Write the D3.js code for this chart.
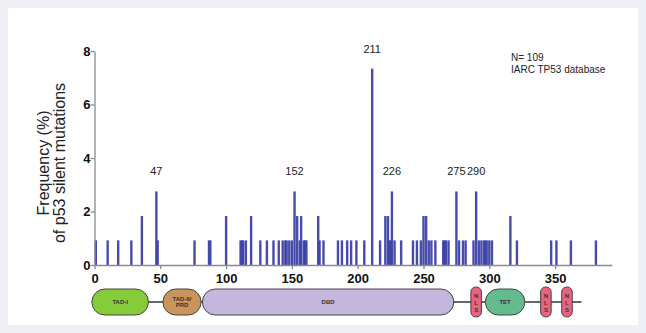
<!DOCTYPE html>
<html>
<head>
<meta charset="utf-8">
<script src="https://cdn.jsdelivr.net/npm/d3@7"></script>
<style>
  html, body { margin: 0; padding: 0; background: #eef0f5; }
  body { width: 646px; height: 333px; overflow: hidden; font-family: "Liberation Sans", Arial, sans-serif; }
</style>
</head>
<body>
<svg id="chart" width="646" height="333"></svg>
<script>
// codon positions and frequency (%) of silent mutations
const codons = [1, 10, 18, 28, 36, 47, 48, 76, 87, 88, 100, 111, 112, 113, 115, 119,
  126, 131, 136, 140, 143, 145, 146, 148, 150, 152, 154, 156, 157, 159, 160, 161,
  170, 171, 174, 185, 188, 192, 195, 199, 205, 211, 217, 221, 223, 224, 225, 226, 228,
  233, 242, 245, 248, 250, 252, 254, 256, 259, 265, 266, 267, 269, 275, 277, 280, 282,
  288, 290, 292, 294, 296, 297, 298, 300, 302, 316, 321, 347, 351, 362, 381];
const freq = [0.92, 0.92, 0.92, 0.92, 1.83, 2.75, 0.92, 0.92, 0.92, 0.92, 1.83, 0.92, 0.92, 0.92, 0.92, 1.83,
  0.92, 0.92, 0.92, 0.92, 0.92, 0.92, 0.92, 0.92, 0.92, 2.75, 1.83, 0.92, 1.83, 0.92, 0.92, 0.92,
  1.83, 0.92, 0.92, 0.92, 0.92, 0.92, 0.92, 0.92, 0.92, 7.34, 0.92, 1.83, 1.83, 0.92, 0.92, 2.75, 0.92,
  0.92, 0.92, 0.92, 0.92, 1.83, 1.83, 0.92, 0.92, 0.92, 0.92, 0.92, 0.92, 0.92, 2.75, 0.92, 0.92, 0.92,
  0.92, 2.75, 0.92, 0.92, 0.92, 0.92, 0.92, 0.92, 0.92, 1.83, 0.92, 0.92, 0.92, 0.92, 0.92];

const hotspots = [47, 152, 211, 226, 275, 290];

const xTicks = [0, 50, 100, 150, 200, 250, 300, 350];
const yTicks = [0, 2, 4, 6, 8];

// p53 protein domains (codon start / end)
const domainNames = ["TAD-I", "TAD-II/\nPRD", "DBD", "NLS", "TET", "NLS", "NLS"];
const domainStart = [-2, 52, 82, 286, 297, 339, 355];
const domainEnd = [41, 81, 273, 294, 327, 347, 363];
const domainColors = ["#86cc3a", "#c9955c", "#c4b6dc", "#e9637f", "#63bb8e", "#e9637f", "#e9637f"];

const svg = d3.select("#chart");

svg.append("rect")
    .attr("x", 8).attr("y", 8)
    .attr("width", 630).attr("height", 317)
    .attr("fill", "#ffffff");

const x = d3.scaleLinear().domain([0, 393]).range([94.5, 611.7]);
const y = d3.scaleLinear().domain([0, 8]).range([265, 51]);

const data = codons.map((c, i) => ({ codon: c, f: freq[i] }));

// bars
const barW = 2.4;
svg.append("g")
    .selectAll("rect")
    .data(data)
    .join("rect")
    .attr("x", d => x(d.codon) - barW / 2)
    .attr("y", d => y(d.f))
    .attr("width", barW)
    .attr("height", d => y(0) - y(d.f))
    .attr("fill", "#3d42a8")
    .attr("opacity", 0.95);

// axes
const xAxis = svg.append("g")
    .attr("transform", `translate(0,${y(0)})`)
    .call(d3.axisBottom(x).tickValues(xTicks).tickSize(4).tickSizeOuter(0));
const yAxis = svg.append("g")
    .attr("transform", `translate(${x(0)},0)`)
    .call(d3.axisLeft(y).tickValues(yTicks).tickSize(4).tickSizeOuter(0));

[xAxis, yAxis].forEach(g => {
    g.selectAll("path, line").attr("stroke", "#8a8a8a").attr("stroke-width", 1.3);
    g.selectAll("text")
        .attr("fill", "#111")
        .style("font-family", "Liberation Sans, Arial, sans-serif")
        .style("font-size", "13px")
        .style("font-weight", "bold");
});
xAxis.selectAll("text").attr("dy", "0.95em").attr("y", 6);
yAxis.selectAll("text").attr("x", -4);

// y title
const yTitle = svg.append("text")
    .attr("transform", `translate(43,163) rotate(-90)`)
    .attr("text-anchor", "middle")
    .attr("fill", "#222")
    .style("font-size", "16px");
yTitle.append("tspan").attr("x", 0).attr("dy", "0.35em").text("Frequency (%)");
yTitle.append("tspan").attr("x", 0).attr("dy", "1.0em").text("of p53 silent mutations");

// hotspot labels
svg.append("g")
    .selectAll("text")
    .data(data.filter(d => hotspots.includes(d.codon)))
    .join("text")
    .attr("x", d => x(d.codon))
    .attr("y", d => y(d.f) - 16)
    .attr("text-anchor", "middle")
    .attr("fill", "#222")
    .style("font-size", "11px")
    .text(d => d.codon);

// database note
svg.append("text").attr("x", 511).attr("y", 61)
    .attr("fill", "#222").style("font-size", "10px").text("N= 109");
svg.append("text").attr("x", 511).attr("y", 73)
    .attr("fill", "#222").style("font-size", "10px").text("IARC TP53 database");

// domain diagram
const dy = 302, dh = 26;
svg.append("line")
    .attr("x1", x(-2)).attr("x2", x(370))
    .attr("y1", dy).attr("y2", dy)
    .attr("stroke", "#333").attr("stroke-width", 1.3);

const domains = domainNames.map((n, i) => ({ name: n, s: domainStart[i], e: domainEnd[i], c: domainColors[i] }));
const dg = svg.append("g").selectAll("g").data(domains).join("g");
dg.append("rect")
    .attr("x", d => x(d.s))
    .attr("y", d => d.name === "NLS" ? dy - 15 : dy - dh / 2)
    .attr("width", d => x(d.e) - x(d.s))
    .attr("height", d => d.name === "NLS" ? 30 : dh)
    .attr("rx", d => d.name === "NLS" ? 5 : 13)
    .attr("fill", d => d.c)
    .attr("stroke", "#444").attr("stroke-width", 1);

dg.filter(d => d.name !== "NLS").append("text")
    .attr("x", d => (x(d.s) + x(d.e)) / 2)
    .attr("y", dy)
    .attr("text-anchor", "middle")
    .attr("fill", "#333")
    .style("font-size", "6px")
    .style("font-weight", "bold")
    .each(function (d) {
        const lines = d.name.split("\n");
        const t = d3.select(this);
        lines.forEach((l, i) => {
            t.append("tspan").attr("x", (x(d.s) + x(d.e)) / 2)
                .attr("dy", i === 0 ? `${0.35 - (lines.length - 1) * 0.55}em` : "1.1em")
                .text(l);
        });
    });

dg.filter(d => d.name === "NLS").append("text")
    .attr("text-anchor", "middle")
    .attr("fill", "#333")
    .style("font-size", "6px")
    .style("font-weight", "bold")
    .each(function (d) {
        const t = d3.select(this);
        const cx = (x(d.s) + x(d.e)) / 2;
        ["N", "L", "S"].forEach((ch, i) => {
            t.append("tspan").attr("x", cx).attr("y", dy - 6 + i * 7 + 2).text(ch);
        });
    });
</script>
</body>
</html>
